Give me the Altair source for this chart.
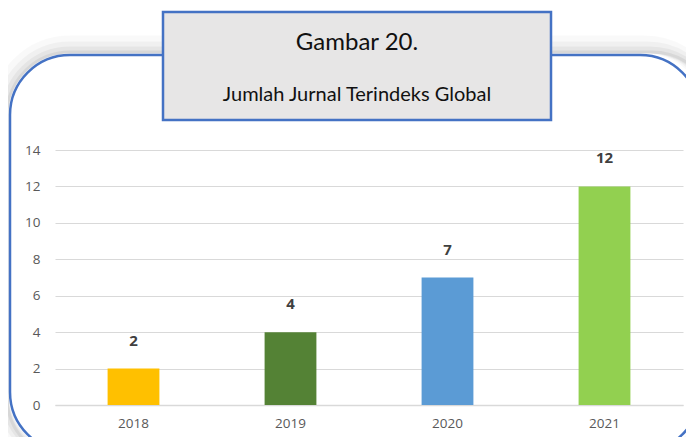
import altair as alt
import pandas as pd

years = ["2018", "2019", "2020", "2021"]
counts = [2, 4, 7, 12]
colors = ["#FFC000", "#548235", "#5B9BD5", "#92D050"]
title_line1 = "Gambar 20."
title_line2 = "Jumlah Jurnal Terindeks Global"
y_ticks = [0, 2, 4, 6, 8, 10, 12, 14]

df = pd.DataFrame({"year": years, "count": counts, "color": colors})
one = pd.DataFrame({"a": [0]})

W, H = 628, 255

# decorations (pixel coords relative to the plot area)
shadows = []
for sw, op in [(18, 0.025), (12, 0.035), (7, 0.045), (3, 0.06)]:
    off = sw / 2 + 1.5
    shadows.append(
        alt.Chart(one).mark_rect(
            cornerRadius=60 + off, fillOpacity=0, fill="white", stroke="black",
            strokeOpacity=op, strokeWidth=sw
        ).encode(x=alt.value(-45 - off), x2=alt.value(660), y=alt.value(-95 - off), y2=alt.value(310))
    )

frame = alt.Chart(one).mark_rect(
    cornerRadius=60, fillOpacity=0, fill="white", stroke="#4472C4", strokeWidth=2.5
).encode(x=alt.value(-45), x2=alt.value(645), y=alt.value(-95), y2=alt.value(302))

title_box = alt.Chart(one).mark_rect(
    fill="#E7E6E6", stroke="#4472C4", strokeWidth=2.5
).encode(x=alt.value(108), x2=alt.value(496), y=alt.value(-138), y2=alt.value(-30))

t1 = alt.Chart(one).mark_text(
    text=title_line1, font="Lato", fontSize=24, color="#111111", align="center", baseline="middle"
).encode(x=alt.value(302), y=alt.value(-107))
t2 = alt.Chart(one).mark_text(
    text=title_line2, font="Lato", fontSize=20, color="#111111", align="center", baseline="middle"
).encode(x=alt.value(302), y=alt.value(-55))

xenc = alt.X("year:N", sort=years,
             scale=alt.Scale(paddingInner=0.67, paddingOuter=0.335),
             axis=alt.Axis(title=None, labelAngle=0, ticks=False, domain=True,
                           domainColor="#D9D9D9", domainWidth=1.5, labelPadding=11,
                           labelFont="Open Sans", labelFontSize=13.5, labelColor="#595959"))
yenc = alt.Y("count:Q", scale=alt.Scale(domain=[0, 14], nice=False),
             axis=alt.Axis(title=None, values=y_ticks, ticks=False, domain=False,
                           grid=True, gridColor="#D9D9D9", gridWidth=1.2,
                           labelOverlap=False, labelPadding=15, labelFont="Open Sans",
                           labelFontSize=13.5, labelColor="#595959"))

bars = alt.Chart(df).mark_bar().encode(
    x=xenc, y=yenc,
    color=alt.Color("color:N", scale=None, legend=None),
)
labels = alt.Chart(df).mark_text(
    font="Open Sans", fontSize=15, fontWeight="bold", color="#404040",
    baseline="middle", dy=-28
).encode(x=xenc, y=yenc, text="count:Q")

chart = alt.layer(*shadows, frame, title_box, t1, t2, bars, labels).properties(
    width=W, height=H,
    autosize=alt.AutoSizeParams(type="none"),
    padding={"left": 47, "top": 142, "right": 3, "bottom": 32},
    background="white",
).configure_view(stroke=None)

chart.save("out.html", embed_options={"renderer": "svg", "actions": False})
